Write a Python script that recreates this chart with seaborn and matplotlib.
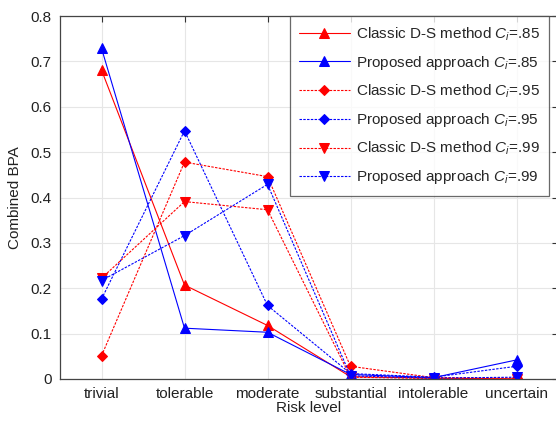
import matplotlib
matplotlib.use("Agg")
import matplotlib.pyplot as plt
import seaborn as sns
import pandas as pd

# Risk levels on the x axis
risk_levels = ["trivial", "tolerable", "moderate", "substantial", "intolerable", "uncertain"]

# Combined BPA for each method and confidence level
classic_85 = [0.681, 0.207, 0.118, 0.005, 0.002, 0.000]
proposed_85 = [0.729, 0.112, 0.103, 0.010, 0.003, 0.042]
classic_95 = [0.051, 0.478, 0.446, 0.028, 0.003, 0.002]
proposed_95 = [0.176, 0.547, 0.162, 0.012, 0.004, 0.028]
classic_99 = [0.222, 0.391, 0.373, 0.004, 0.001, 0.000]
proposed_99 = [0.217, 0.316, 0.429, 0.007, 0.002, 0.004]

series_labels = [
    r"Classic D-S method $C_i$=.85",
    r"Proposed approach $C_i$=.85",
    r"Classic D-S method $C_i$=.95",
    r"Proposed approach $C_i$=.95",
    r"Classic D-S method $C_i$=.99",
    r"Proposed approach $C_i$=.99",
]
series_values = [classic_85, proposed_85, classic_95, proposed_95, classic_99, proposed_99]

sns.set_style("white")
plt.rcParams["font.family"] = ["Liberation Sans", "DejaVu Sans"]
plt.rcParams["mathtext.fontset"] = "custom"
plt.rcParams["mathtext.it"] = "Liberation Sans:italic"
plt.rcParams["mathtext.rm"] = "Liberation Sans"

colors = ["#ff0000", "#0000ff"] * 3
markers = ["^", "^", "D", "D", "v", "v"]
dashes = ["-", "-", (0, (2.2, 1.2)), (0, (2.2, 1.2)), (0, (2.2, 1.2)), (0, (2.2, 1.2))]
msizes = [6.5, 6.5, 5.2, 5.2, 6.5, 6.5]

fig = plt.figure(figsize=(5.56, 4.21), dpi=100)
ax = fig.add_axes([60 / 556, 1 - 379 / 421, 498 / 556, 363 / 421])

x_pos = list(range(len(risk_levels)))
for label, vals, c, m, ls, ms in zip(series_labels, series_values, colors, markers, dashes, msizes):
    df = pd.DataFrame({"level": x_pos, "bpa": vals})
    sns.lineplot(data=df, x="level", y="bpa", ax=ax, color=c, marker=m,
                 markersize=ms, markeredgecolor=c, markerfacecolor=c,
                 linewidth=0.8, linestyle=ls, label=label)

ax.set_xlim(-0.5, 5.5)
ax.set_ylim(0, 0.8)
ax.set_xticks(x_pos)
ax.set_xticklabels(risk_levels)
ax.set_yticks([0, 0.1, 0.2, 0.3, 0.4, 0.5, 0.6, 0.7, 0.8])
ax.set_yticklabels(["0", "0.1", "0.2", "0.3", "0.4", "0.5", "0.6", "0.7", "0.8"])
ax.grid(True, color="#e6e6e6", linewidth=0.8)
ax.set_axisbelow(True)
ax.tick_params(direction="in", length=4, width=0.8, top=True, right=True,
               labelsize=11, colors="#333333", labelcolor="#222222", pad=6)
for s in ax.spines.values():
    s.set_color("#444444")
    s.set_linewidth(0.9)

ax.set_xlabel("Risk level", fontsize=11, color="#222222", labelpad=0)
ax.set_ylabel("Combined BPA", fontsize=11, color="#222222", labelpad=6)

leg = ax.legend(loc="upper left", bbox_to_anchor=((290 - 60) / 498, 1.0),
                borderaxespad=0, frameon=True, fancybox=False, fontsize=11,
                handlelength=3.3, handletextpad=0.4, labelspacing=0.72,
                borderpad=0.6)
leg.get_frame().set_edgecolor("#444444")
leg.get_frame().set_linewidth(0.9)

fig.savefig("out.png", dpi=100)
